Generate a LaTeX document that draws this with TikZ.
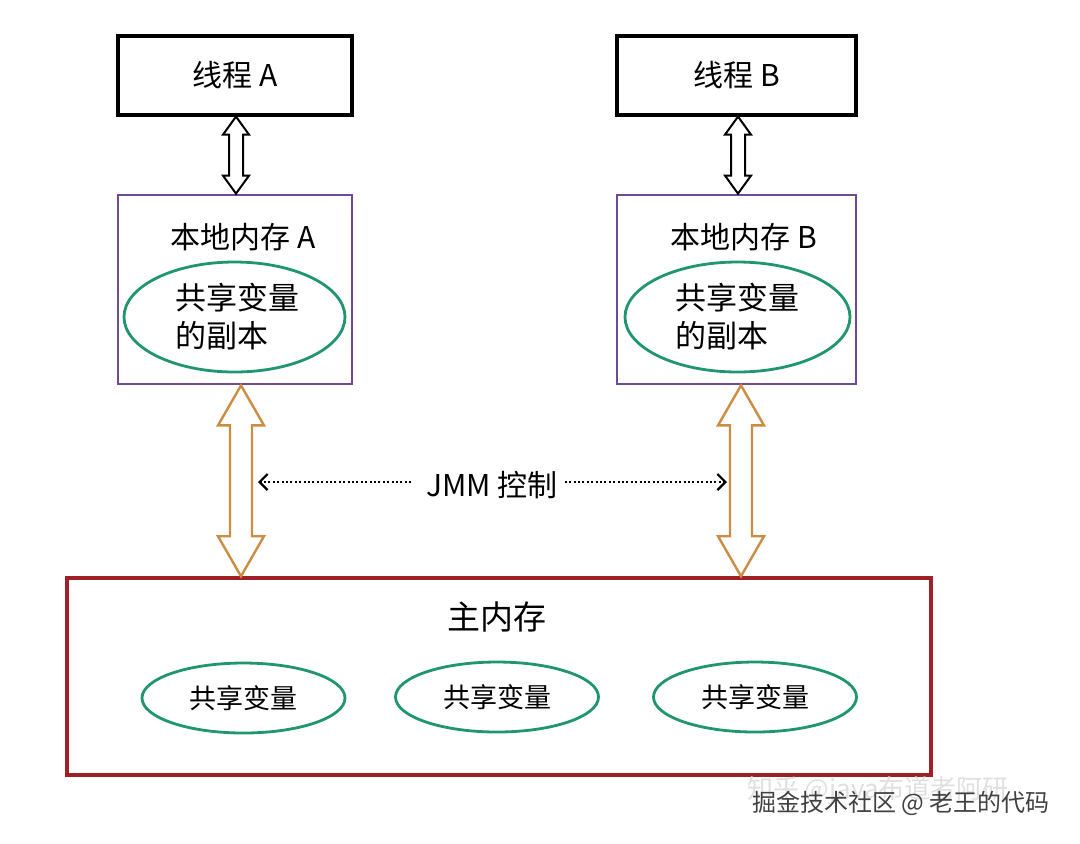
\documentclass[tikz,border=0pt]{standalone}
\usepackage{fontspec}
\setmainfont{Noto Sans CJK SC}
\usetikzlibrary{shapes.geometric,calc,arrows.meta}

\definecolor{boxpurple}{RGB}{112,74,146}
\definecolor{vargreen}{RGB}{32,150,108}
\definecolor{busorange}{RGB}{204,140,66}
\definecolor{mainred}{RGB}{160,32,40}

% double headed block arrow between two points (same x)
% #1 style, #2 top, #3 bottom, #4 half shaft, #5 half head, #6 head length
\newcommand{\dblarrow}[6]{%
  \draw[#1] let \p1=(#2), \p2=(#3) in
    (\x1,\y1) -- (\x1+#5,\y1-#6) -- (\x1+#4,\y1-#6) -- (\x1+#4,\y2+#6)
    -- (\x1+#5,\y2+#6) -- (\x1,\y2) -- (\x1-#5,\y2+#6) -- (\x1-#4,\y2+#6)
    -- (\x1-#4,\y1-#6) -- (\x1-#5,\y1-#6) -- cycle;}

\begin{document}
\begin{tikzpicture}[x=0.5pt,y=-0.5pt,
    threadbox/.style={draw=black,line width=1.6pt,minimum width=117pt,minimum height=39.5pt,font=\fontsize{15}{18}\selectfont},
    localbox/.style={draw=boxpurple,line width=1.4pt,minimum width=117pt,minimum height=94.5pt},
    copyvar/.style={ellipse,draw=vargreen,line width=1.4pt,minimum width=110.5pt,minimum height=55pt},
    sharedvar/.style={ellipse,draw=vargreen,line width=1.4pt,minimum width=101.5pt,minimum height=35pt,font=\fontsize{13.5}{16}\selectfont},
    mainbox/.style={draw=mainred,line width=1.8pt,minimum width=432pt,minimum height=98.5pt},
    lbl/.style={font=\fontsize{15}{18}\selectfont},
    blackarrow/.style={draw=black,line width=1pt,fill=white},
    orangearrow/.style={draw=busorange,line width=1.2pt,fill=white},
    jmmline/.style={dash pattern=on 1pt off 1.2pt,line width=1.1pt,-{Straight Barb[length=4pt,width=8pt]}}
  ]

    % --- Canvas ---
    \useasboundingbox (0,0) rectangle (1080,843);

    % --- Threads ---
    \node[threadbox] (tA) at (235,75.5) {线程 A};
    \node[threadbox,minimum width=119.5pt] (tB) at (736.5,75.5) {线程 B};

    % --- Local memories ---
    \node[localbox] (lA) at (235,289.5) {};
    \node[localbox,minimum width=119.5pt] (lB) at (736.5,289.5) {};
    \node[lbl] (lAt) at (243,237) {本地内存 A};
    \node[lbl] (lBt) at (744,237) {本地内存 B};

    \node[copyvar] (cA) at (234.5,317) {};
    \node[copyvar,minimum width=112.5pt] (cB) at (737.5,317) {};
    \node[align=left,font=\fontsize{15.5}{19}\selectfont] (cAt) at (237,317) {共享变量\\的副本};
    \node[align=left,font=\fontsize{15.5}{19}\selectfont] (cBt) at (737,317) {共享变量\\的副本};

    % --- Main memory ---
    \node[mainbox] (main) at (499,676.5) {};
    \node[font=\fontsize{16.5}{19}\selectfont] (mt) at (497,617) {主内存};
    \node[sharedvar] (s1) at (243.5,698) {共享变量};
    \node[sharedvar] (s2) at (497,697) {共享变量};
    \node[sharedvar] (s3) at (755,697) {共享变量};

    % --- Thread <-> local arrows ---
    \coordinate (aA) at ([xshift=0.5pt]tA.south);
    \coordinate (aB) at ([xshift=0.75pt]tB.south);
    \dblarrow{blackarrow}{aA}{aA |- lA.north}{3.5pt}{6.5pt}{9pt}
    \dblarrow{blackarrow}{aB}{aB |- lB.north}{3.5pt}{6.5pt}{9pt}

    % --- Local <-> main arrows ---
    \coordinate (oA) at ([xshift=3pt]lA.south);
    \coordinate (oB) at ([xshift=2.25pt]lB.south);
    \dblarrow{orangearrow}{oA}{oA |- main.north}{5.5pt}{11.5pt}{20pt}
    \dblarrow{orangearrow}{oB}{oB |- main.north}{5.5pt}{11.5pt}{20pt}

    % --- JMM control ---
    \node[lbl] (jmm) at (492,485) {JMM 控制};
    \coordinate (jL) at (258,482);
    \coordinate (jR) at (727,482);
    \draw[jmmline] (jmm.west |- jL) ++(-8,0) -- (jL);
    \draw[jmmline] (jmm.east |- jR) -- (jR);

    % --- Watermarks ---
    \node[text=black!12,font=\fontsize{13}{15}\selectfont] (wm1) at (878,791) {知乎 @java布道者阿研};
    \node[text=black!75,font=\fontsize{12}{14}\selectfont] (wm2) at (901,803) {掘金技术社区 @ 老王的代码};

\end{tikzpicture}
\end{document}
